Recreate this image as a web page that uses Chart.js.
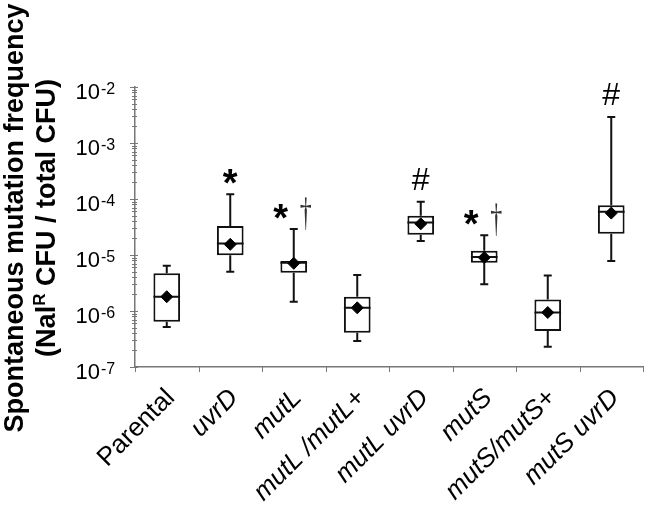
<!DOCTYPE html>
<html>
<head>
<meta charset="utf-8">
<script src="https://cdn.jsdelivr.net/npm/chart.js@4"></script>
<style>
  body { margin: 0; background: #fff; }
  #wrap { width: 650px; height: 507px; position: relative; }
</style>
</head>
<body>
<div id="wrap"><canvas id="chart"></canvas></div>
<script>
// strains on the x axis
const categories = ['Parental', 'uvrD', 'mutL', 'mutL /mutL+', 'mutL uvrD', 'mutS', 'mutS/mutS+', 'mutS uvrD'];
const italicLabel = [false, true, true, true, true, true, true, true];

// box plot values (mutation frequency)
const whiskerLow  = [5.2e-7, 5.0e-6, 1.46e-6, 2.9e-7, 1.78e-5, 3.0e-6, 2.3e-7, 7.8e-6];
const q1          = [6.4e-7, 9.9e-6, 4.8e-6, 4.1e-7, 2.3e-5, 7.3e-6, 4.4e-7, 2.4e-5];
const median      = [1.8e-6, 1.6e-5, 7.3e-6, 1.14e-6, 3.8e-5, 9.2e-6, 9.4e-7, 5.9e-5];
const q3          = [4.7e-6, 3.3e-5, 7.8e-6, 1.8e-6, 5.0e-5, 1.19e-5, 1.6e-6, 7.7e-5];
const whiskerHigh = [6.4e-6, 1.22e-4, 2.9e-5, 4.4e-6, 8.9e-5, 2.25e-5, 4.3e-6, 2.9e-3];
const mean        = [1.8e-6, 1.55e-5, 7.1e-6, 1.14e-6, 3.6e-5, 9.0e-6, 9.4e-7, 5.6e-5];

// significance marks above the boxes
const sigMain   = ['', '*', '*', '', '#', '*', '', '#'];
const sigDagger = ['', '', '\u2020', '', '', '\u2020', '', ''];

// y axis decades (exponents)
const decades = [-7, -6, -5, -4, -3, -2];

const FONT = '"Liberation Sans", Arial, sans-serif';

const boxPlugin = {
    id: 'boxExtras',
    afterDatasetDraw(chart, args) {
        if (args.index !== 0) return;
        const ctx = chart.ctx;
        const x = chart.scales.x, y = chart.scales.y;
        const meta = chart.getDatasetMeta(0);
        ctx.save();
        ctx.strokeStyle = '#111';
        ctx.lineWidth = 2;
        categories.forEach((c, i) => {
            const bar = meta.data[i];
            const cx = x.getPixelForValue(i);
            const half = bar.width / 2;
            const yHi = y.getPixelForValue(whiskerHigh[i]);
            const yLo = y.getPixelForValue(whiskerLow[i]);
            const yQ1 = y.getPixelForValue(q1[i]);
            const yQ3 = y.getPixelForValue(q3[i]);
            const yMed = y.getPixelForValue(median[i]);
            ctx.beginPath();
            // whiskers
            ctx.moveTo(cx, yQ3); ctx.lineTo(cx, yHi);
            ctx.moveTo(cx - 4, yHi); ctx.lineTo(cx + 4, yHi);
            ctx.moveTo(cx, yQ1); ctx.lineTo(cx, yLo);
            ctx.moveTo(cx - 4, yLo); ctx.lineTo(cx + 4, yLo);
            // median
            ctx.moveTo(cx - half, yMed); ctx.lineTo(cx + half, yMed);
            ctx.stroke();
        });
        ctx.restore();
    },
    afterDraw(chart) {
        const ctx = chart.ctx;
        const x = chart.scales.x, y = chart.scales.y;
        const area = chart.chartArea;
        ctx.save();

        // y axis ticks and labels
        ctx.strokeStyle = '#777';
        ctx.lineWidth = 1;
        ctx.beginPath();
        decades.forEach(d => {
            const py = Math.round(y.getPixelForValue(Math.pow(10, d))) + 0.5;
            ctx.moveTo(area.left - 5, py); ctx.lineTo(area.left + 3, py);
            if (d < -2) {
                for (let m = 2; m <= 9; m++) {
                    const my = Math.round(y.getPixelForValue(m * Math.pow(10, d))) + 0.5;
                    ctx.moveTo(area.left - 3, my); ctx.lineTo(area.left + 2, my);
                }
            }
        });
        // x axis ticks at category boundaries
        for (let i = 0; i <= categories.length; i++) {
            let px;
            if (i === 0) px = area.left;
            else if (i === categories.length) px = area.right;
            else px = (x.getPixelForValue(i - 1) + x.getPixelForValue(i)) / 2;
            px = Math.round(px) + 0.5;
            ctx.moveTo(px, area.bottom); ctx.lineTo(px, area.bottom + 5);
        }
        ctx.stroke();

        ctx.fillStyle = '#000';
        decades.forEach(d => {
            const py = y.getPixelForValue(Math.pow(10, d));
            ctx.font = '22px ' + FONT;
            ctx.textAlign = 'right';
            ctx.textBaseline = 'alphabetic';
            ctx.fillText('10', 100, py + 12);
            ctx.font = '16px ' + FONT;
            ctx.textAlign = 'left';
            ctx.fillText(String(d), 101, py + 7);
        });

        // x labels, rotated 45 degrees
        categories.forEach((c, i) => {
            const cx = x.getPixelForValue(i);
            ctx.save();
            ctx.translate(cx + 9, area.bottom + 32);
            ctx.rotate(-Math.PI / 4);
            ctx.font = (italicLabel[i] ? 'italic ' : '') + '26px ' + FONT;
            ctx.textAlign = 'right';
            ctx.textBaseline = 'alphabetic';
            ctx.fillText(c, 0, 0);
            ctx.restore();
        });

        // significance marks
        categories.forEach((c, i) => {
            const cx = x.getPixelForValue(i);
            const top = y.getPixelForValue(whiskerHigh[i]);
            ctx.textAlign = 'center';
            ctx.textBaseline = 'alphabetic';
            const hasDagger = sigDagger[i] !== '';
            if (sigMain[i] === '*') {
                ctx.font = 'bold 38px ' + FONT;
                ctx.fillStyle = '#000';
                ctx.fillText('*', hasDagger ? cx - 13 : cx, top - 19 + 21);
            } else if (sigMain[i] === '#') {
                ctx.font = '32px ' + FONT;
                ctx.fillStyle = '#000';
                ctx.fillText('#', cx, top - 23 + 11);
            }
            if (hasDagger) {
                // thin dagger, squeezed horizontally
                ctx.save();
                ctx.translate(cx + 12, top - 14 + 10);
                ctx.scale(0.6, 1);
                ctx.font = '40px "Liberation Serif", serif';
                ctx.fillStyle = '#333';
                ctx.fillText(sigDagger[i], 0, 0);
                ctx.restore();
            }
        });

        // y axis title, two lines
        ctx.fillStyle = '#000';
        ctx.save();
        ctx.translate(23, 218);
        ctx.rotate(-Math.PI / 2);
        ctx.font = 'bold 27px ' + FONT;
        ctx.textAlign = 'center';
        ctx.fillText('Spontaneous mutation frequency', 0, 0);
        ctx.restore();

        ctx.save();
        ctx.translate(55, 218);
        ctx.rotate(-Math.PI / 2);
        const big = 'bold 27px ' + FONT, small = 'bold 17px ' + FONT;
        ctx.font = big;
        const wA = ctx.measureText('(Nal').width;
        const wC = ctx.measureText(' CFU / total CFU)').width;
        ctx.font = small;
        const wB = ctx.measureText('R').width;
        let sx = -(wA + wB + wC) / 2;
        ctx.textAlign = 'left';
        ctx.font = big;
        ctx.fillText('(Nal', sx, 0);
        ctx.font = small;
        ctx.fillText('R', sx + wA, -10);
        ctx.font = big;
        ctx.fillText(' CFU / total CFU)', sx + wA + wB, 0);
        ctx.restore();

        ctx.restore();
    }
};

new Chart(document.getElementById('chart').getContext('2d'), {
    type: 'bar',
    data: {
        labels: categories,
        datasets: [
            {
                type: 'bar',
                label: 'IQR',
                data: q1.map((v, i) => [v, q3[i]]),
                backgroundColor: '#fff',
                borderColor: '#111',
                borderWidth: 2,
                borderSkipped: false,
                barPercentage: 0.42,
                categoryPercentage: 1,
                order: 1
            },
            {
                type: 'line',
                label: 'Mean',
                data: mean,
                showLine: false,
                pointStyle: 'rectRot',
                pointRadius: 6,
                pointHoverRadius: 6,
                backgroundColor: '#000',
                borderColor: '#000',
                order: 0
            }
        ]
    },
    options: {
        responsive: true,
        maintainAspectRatio: false,
        animation: false,
        layout: { padding: { top: 87, right: 2, left: 0, bottom: 0 } },
        plugins: {
            legend: { display: false },
            tooltip: { enabled: false }
        },
        scales: {
            x: {
                grid: { display: false },
                ticks: { display: false },
                border: { display: true, color: '#777', width: 1.5 },
                afterFit(scale) { scale.height = 140; }
            },
            y: {
                type: 'logarithmic',
                min: 1e-7,
                max: 1e-2,
                grid: { display: false },
                ticks: { display: false },
                border: { display: true, color: '#777', width: 1.5 },
                afterFit(scale) { scale.width = 135; }
            }
        }
    },
    plugins: [boxPlugin]
});
</script>
</body>
</html>
